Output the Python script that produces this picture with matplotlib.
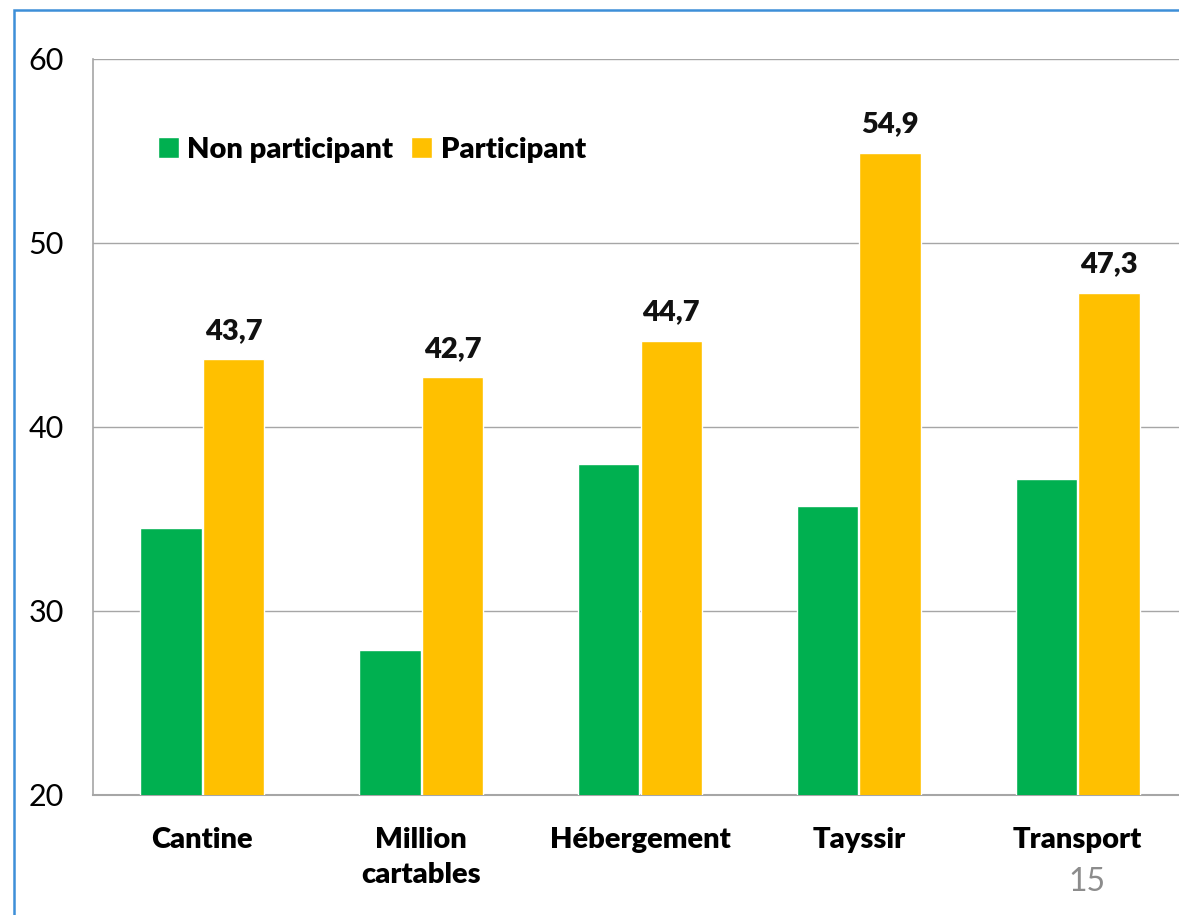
import matplotlib
matplotlib.use("Agg")
import matplotlib.pyplot as plt
from matplotlib.patches import Rectangle
import numpy as np

categories = ["Cantine", "Million\ncartables", "Hébergement", "Tayssir", "Transport"]
non_participant = [34.5, 27.9, 38.0, 35.7, 37.2]
participant = [43.7, 42.7, 44.7, 54.9, 47.3]
yticks = [20, 30, 40, 50, 60]

plt.rcParams['font.family'] = ['Lato', 'DejaVu Sans']

fig = plt.figure(figsize=(11.79, 9.15), dpi=100)
ax = fig.add_axes([93/1179, 1-795/915, 1094/1179, (795-59)/915])

x = np.arange(len(categories))
w = 0.28
off = 0.143
green = "#00B050"
orange = "#FFC000"
ax.bar(x - off, non_participant, w, color=green, edgecolor="white", linewidth=1, label="Non participant", zorder=3)
ax.bar(x + off, participant, w, color=orange, edgecolor="white", linewidth=1, label="Participant", zorder=3)

for xi, v in zip(x, participant):
    ax.annotate(f"{v:.1f}".replace(".", ","), (xi + off, v), xytext=(0, 11), textcoords="offset points",
                ha="center", va="bottom", fontsize=21, fontweight="heavy", color="#111111")

ax.set_xlim(-0.5, 4.5)
ax.set_ylim(20, 60)
ax.set_yticks(yticks)
ax.set_yticklabels([str(t) for t in yticks], fontsize=22)
ax.set_xticks(x)
ax.set_xticklabels(categories, fontsize=21, fontweight="heavy", linespacing=1.45)
ax.tick_params(axis="both", length=0)
ax.tick_params(axis="y", pad=21)
ax.tick_params(axis="x", pad=23)
ax.yaxis.grid(True, color="#a6a6a6", linewidth=1, zorder=0)
ax.set_axisbelow(True)
for s in ["top", "right"]:
    ax.spines[s].set_visible(False)
ax.spines["left"].set_color("#a6a6a6")
ax.spines["bottom"].set_color("#a6a6a6")
ax.spines["left"].set_linewidth(1.2)
ax.spines["bottom"].set_linewidth(1.5)
ax.axhline(60, color="#a6a6a6", linewidth=1.2, zorder=1)

ax.legend(loc="upper left", bbox_to_anchor=(146/1179, 1-125/915), bbox_transform=fig.transFigure,
          ncol=2, frameon=False, prop={"size": 21, "weight": "heavy"},
          handlelength=0.72, handleheight=0.72, handletextpad=0.3, columnspacing=0.6, borderaxespad=0)

fig.text(1087/1179, 1-882/915, "15", ha="center", va="center", fontsize=23, color="#8c8c8c", fontweight="normal")

fig.patches.append(Rectangle((14/1179, -0.1), 1.2, 1-10/915+0.1, transform=fig.transFigure,
                             fill=False, edgecolor="#3d8fd8", linewidth=1.8, zorder=10))

fig.savefig("out.png", dpi=100)
